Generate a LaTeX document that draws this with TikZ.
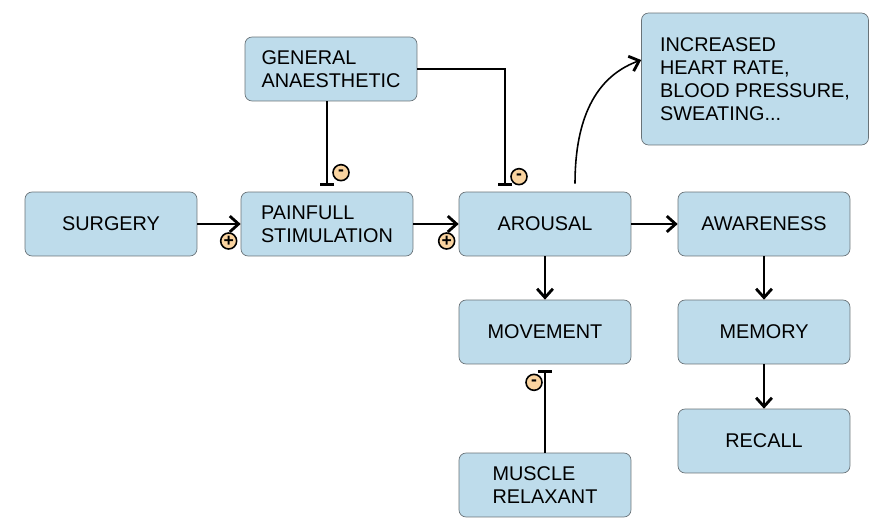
\documentclass[tikz,border=0pt]{standalone}
\usepackage{fontspec}
\setmainfont{Liberation Sans}
\usetikzlibrary{arrows.meta,calc}
\definecolor{boxblue}{RGB}{190,220,235}
\definecolor{boxline}{RGB}{105,115,120}
\definecolor{signfill}{RGB}{250,212,160}
\tikzset{
  block/.style={draw=boxline,fill=boxblue,rounded corners=4pt,minimum width=3.44cm,minimum height=1.28cm,align=left,font=\fontsize{11.3}{13}\selectfont},
  sign/.style={circle,draw,line width=0.9pt,fill=signfill,inner sep=0pt,minimum size=0.32cm,font=\fontsize{10}{10}\selectfont\bfseries},
  act/.style={-{Straight Barb[length=5pt,width=9pt,line width=1.6pt]},line width=0.9pt},
  inh/.style={-{Bar[width=8pt,line width=1.4pt]},line width=0.9pt,shorten >=3.5pt}
}
\begin{document}
\begin{tikzpicture}[x=0.02cm,y=-0.02cm]
\useasboundingbox (0,0) rectangle (878,526);
% boxes
\node[block] (surgery) at (111,224) {SURGERY};
\node[block] (stim) at (327,224) {PAINFULL\\STIMULATION};
\node[block] (arousal) at (545,224) {AROUSAL};
\node[block] (aware) at (764,224) {AWARENESS};
\node[block] (anaes) at (331,69) {GENERAL\\ANAESTHETIC};
\node[block,minimum width=4.54cm,minimum height=2.64cm] (signs) at (755,79) {INCREASED\\HEART RATE,\\BLOOD PRESSURE,\\SWEATING...};
\node[block] (move) at (545,332) {MOVEMENT};
\node[block] (memory) at (764,332) {MEMORY};
\node[block] (recall) at (764,441) {RECALL};
\node[block] (relax) at (545,485) {MUSCLE\\RELAXANT};
% arrows
\draw[act] (surgery) -- (stim);
\draw[act] (stim) -- (arousal);
\draw[act] (arousal) -- (aware);
\draw[act] (arousal) -- (move);
\draw[act] (aware) -- (memory);
\draw[act] (memory) -- (recall);
\coordinate (up) at ($(arousal.north)+(30,-8)$);
\draw[act] (up) to[out=90,in=200] ($(signs.west)+(0,-19)$);
% inhibitions
\draw[inh] (stim.north |- anaes.south) -- (stim.north);
\coordinate (arin) at ($(arousal.north)+(-40,0)$);
\draw[inh] (anaes.east) -| (arin);
\draw[inh] (relax) -- (move);
% signs
\node[sign] (plus1) at ($(stim.west)+(-12,17)$) {+};
\node[sign] (plus2) at ($(arousal.west)+(-12,17)$) {+};
\node[sign] (minus1) at ($(stim.north)+(14,-19)$) {-};
\node[sign] (minus2) at ($(arousal.north)+(-26,-15)$) {-};
\node[sign] (minus3) at ($(move.south)+(-11,18)$) {-};
\end{tikzpicture}
\end{document}
